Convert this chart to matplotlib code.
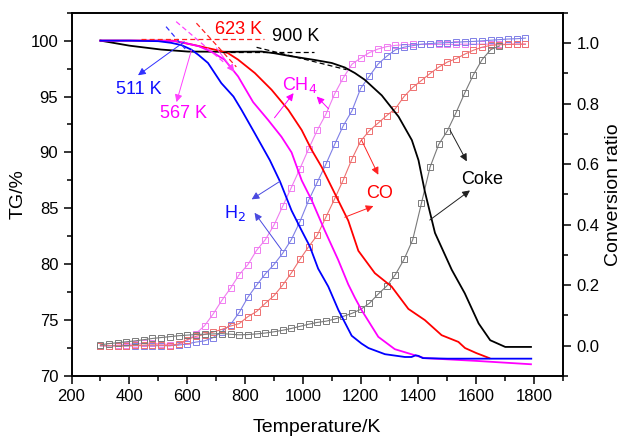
import matplotlib
matplotlib.use("Agg")
import matplotlib.pyplot as plt
from matplotlib.ticker import MultipleLocator

plt.rcParams["font.family"] = ["Liberation Sans", "DejaVu Sans"]

# ---- TG curves (left axis) ----
T_h2 = [300, 400, 500, 545, 580, 614, 640, 672, 718, 760, 788, 834, 886, 921, 961,
        996, 1024, 1053, 1088, 1123, 1169, 1203, 1227, 1284, 1353, 1376, 1390, 1400,
        1415, 1500, 1600, 1790]
tg_h2 = [100, 100, 99.95, 99.8, 99.6, 99.2, 98.7, 98.0, 96.2, 95.0, 93.8, 91.7, 89.3,
         87.4, 84.8, 83.0, 81.6, 79.6, 78.0, 75.9, 73.6, 72.9, 72.5, 71.95, 71.7, 71.7,
         71.85, 71.8, 71.6, 71.55, 71.55, 71.55]

T_ch4 = [300, 500, 560, 590, 640, 684, 729, 776, 828, 880, 926, 961, 996, 1031, 1076,
         1122, 1157, 1180, 1203, 1261, 1318, 1388, 1420, 1600, 1789]
tg_ch4 = [100, 100, 99.95, 99.8, 99.5, 99.0, 98.3, 96.8, 94.5, 92.9, 91.4, 90.0, 87.5,
          85.7, 83.0, 80.4, 78.2, 77.0, 75.9, 73.5, 72.4, 71.85, 71.6, 71.35, 71.05]

T_co = [300, 550, 625, 694, 740, 776, 834, 892, 950, 996, 1031, 1065, 1111, 1157, 1192,
        1249, 1307, 1365, 1422, 1480, 1538, 1561, 1600, 1645]
tg_co = [100, 100, 99.6, 99.2, 98.9, 98.3, 97.1, 95.6, 93.8, 92.0, 90.2, 88.7, 86.3,
         83.9, 81.2, 79.2, 78.0, 76.0, 75.0, 73.65, 73.05, 72.5, 72.05, 71.6]

T_coke = [300, 400, 510, 603, 750, 857, 902, 960, 1041, 1100, 1145, 1180, 1214, 1273,
          1331, 1377, 1400, 1422, 1457, 1515, 1560, 1608, 1648, 1700, 1789]
tg_coke = [100, 99.55, 99.2, 99.02, 99.0, 99.02, 98.87, 98.6, 98.27, 98.0, 97.6, 97.1,
           96.5, 95.1, 93.2, 91.1, 89.3, 86.5, 82.8, 79.5, 77.4, 74.7, 73.2, 72.6, 72.6]

# ---- conversion ratio (right axis) ----
T_conv = [300, 330, 360, 390, 420, 450, 480, 510, 540, 570, 600, 630, 660, 690, 720,
          750, 780, 810, 840, 870, 900, 930, 960, 990, 1020, 1050, 1080, 1110, 1140,
          1170, 1200, 1230, 1260, 1290, 1320, 1350, 1380, 1410, 1440, 1470, 1500, 1530,
          1560, 1590, 1620, 1650, 1680, 1710, 1740, 1770]
conv_ch4 = [0.000, 0.000, 0.002, 0.004, 0.006, 0.008, 0.008, 0.006, 0.004, 0.004,
            0.016, 0.040, 0.066, 0.105, 0.150, 0.190, 0.235, 0.268, 0.315, 0.350,
            0.398, 0.460, 0.522, 0.585, 0.650, 0.712, 0.765, 0.832, 0.885, 0.930,
            0.950, 0.968, 0.980, 0.988, 0.992, 0.994, 0.995, 0.995, 0.995, 0.995,
            0.995, 0.995, 0.996, 0.996, 0.996, 0.996, 0.996, 0.996, 0.996, 0.996]
conv_h2 = [0.000, 0.000, -0.001, -0.001, 0.000, 0.000, 0.000, 0.000, 0.000, 0.002,
           0.006, 0.012, 0.016, 0.027, 0.046, 0.070, 0.110, 0.160, 0.200, 0.237,
           0.268, 0.305, 0.350, 0.410, 0.480, 0.540, 0.600, 0.665, 0.727, 0.776,
           0.850, 0.890, 0.930, 0.956, 0.977, 0.986, 0.991, 0.996, 0.998, 1.000,
           1.001, 1.002, 1.004, 1.005, 1.007, 1.009, 1.011, 1.013, 1.014, 1.016]
conv_co = [0.000, 0.000, 0.000, 0.000, 0.001, 0.002, 0.003, 0.002, 0.000, 0.006,
           0.020, 0.031, 0.037, 0.045, 0.054, 0.065, 0.073, 0.096, 0.113, 0.140,
           0.165, 0.200, 0.240, 0.285, 0.327, 0.365, 0.425, 0.485, 0.548, 0.617,
           0.676, 0.710, 0.735, 0.760, 0.783, 0.823, 0.853, 0.876, 0.899, 0.920,
           0.937, 0.948, 0.963, 0.976, 0.986, 0.992, 0.994, 0.995, 0.996, 0.996]
T_conv_coke = T_conv[:47]
conv_coke = [0.003, 0.007, 0.010, 0.013, 0.016, 0.020, 0.024, 0.027, 0.030, 0.033,
             0.035, 0.037, 0.038, 0.039, 0.040, 0.038, 0.036, 0.037, 0.039, 0.042,
             0.046, 0.051, 0.057, 0.064, 0.071, 0.077, 0.081, 0.088, 0.097, 0.107,
             0.120, 0.140, 0.170, 0.197, 0.235, 0.285, 0.350, 0.470, 0.590, 0.665,
             0.710, 0.770, 0.835, 0.895, 0.945, 0.978, 0.990]

# onset tangent lines (T pairs, TG pairs)
onset_lines = [
    ("#3030ff", (527, 596), (101.25, 99.17)),
    ("#ff40ff", (562, 725), (101.7, 98.1)),
    ("#ff2020", (632, 770), (101.56, 97.65)),
    ("#ff2020", (441, 867), (100.12, 100.12)),
    ("black", (720, 1040), (99.02, 99.02)),
    ("black", (840, 1151), (99.4, 97.4)),
]

# labels: text, position, colour
labels = [
    ("511 K", (431, 95.6), "#1010ff"),
    ("567 K", (587, 93.5), "#ff00ff"),
    ("623 K", (777, 100.96), "#ff0000"),
    ("900 K", (974, 100.33), "black"),
    ("CH$_4$", (990, 96.0), "#ff00ff"),
    ("H$_2$", (765, 84.6), "#1010ff"),
    ("CO", (1266, 86.35), "#ff0000"),
    ("Coke", (1619, 87.6), "black"),
]

# arrows: tail -> head, colour
arrows = [
    ((590, 99.9), (430, 96.9), "#3030ff"),
    ((615, 99.17), (563, 94.5), "#ff40ff"),
    ((701, 99.35), (763, 97.2), "#ff40ff"),
    ((902, 93.1), (968, 95.3), "#ff00ff"),
    ((1089, 93.9), (1048, 95.0), "#ff00ff"),
    ((920, 87.4), (823, 85.8), "#4a4ae0"),
    ((926, 81.3), (833, 84.6), "#4a4ae0"),
    ((1203, 91.1), (1261, 88.0), "#ff2020"),
    ((1145, 84.2), (1244, 85.2), "#ff2020"),
    ((1509, 92.0), (1567, 89.2), "#202020"),
    ((1439, 83.95), (1578, 86.6), "#202020"),
]

fig = plt.figure(figsize=(6.23, 4.37), dpi=100)
ax = fig.add_axes([0.1148, 0.1396, 0.789, 0.8314])
ax2 = ax.twinx()
ax.set_zorder(ax2.get_zorder() + 1)
ax.patch.set_visible(False)

mk = dict(marker="s", fillstyle="none", markersize=3.8, markeredgewidth=0.7, lw=0.8)
ax2.plot(T_conv, conv_ch4, color="#f07cf0", **mk)
ax2.plot(T_conv, conv_h2, color="#7f7fe6", **mk)
ax2.plot(T_conv, conv_co, color="#ee7070", **mk)
ax2.plot(T_conv_coke, conv_coke, color="#7a7a7a", **mk)

ax.plot(T_coke, tg_coke, color="black", lw=1.3)
ax.plot(T_co, tg_co, color="#ff0000", lw=1.3)
ax.plot(T_ch4, tg_ch4, color="#ff00ff", lw=1.3)
ax.plot(T_h2, tg_h2, color="#0000ff", lw=1.3)

for col, xs, ys in onset_lines:
    ax.plot(xs, ys, color=col, lw=0.9, ls=(0, (4, 2.5)))

for txt, pos, col in labels:
    ax.text(pos[0], pos[1], txt, color=col, fontsize=13, ha="center", va="center")

for tail, head, col in arrows:
    ax.annotate("", xy=head, xytext=tail,
                arrowprops=dict(arrowstyle="-|>", color=col, lw=0.7,
                                mutation_scale=11, shrinkA=0, shrinkB=0))

ax.set_xlim(200, 1900)
ax.set_ylim(70, 102.5)
ax2.set_ylim(-0.1, 1.1)

ax.xaxis.set_major_locator(MultipleLocator(200))
ax.xaxis.set_minor_locator(MultipleLocator(100))
ax.yaxis.set_major_locator(MultipleLocator(5))
ax.yaxis.set_minor_locator(MultipleLocator(2.5))
ax2.yaxis.set_major_locator(MultipleLocator(0.2))
ax2.yaxis.set_minor_locator(MultipleLocator(0.1))
ax2.yaxis.set_major_formatter(plt.FormatStrFormatter("%.1f"))

for a in (ax, ax2):
    a.tick_params(which="major", direction="out", length=6, width=1.1, labelsize=12)
    a.tick_params(which="minor", direction="out", length=3.5, width=1.1)
    for s in a.spines.values():
        s.set_linewidth(1.2)
ax.tick_params(axis="x", top=False, which="both")

ax.set_xlabel("Temperature/K", fontsize=14, labelpad=11)
ax.set_ylabel("TG/%", fontsize=14, labelpad=3)
ax2.set_ylabel("Conversion ratio", fontsize=14, labelpad=4)

fig.savefig("out.png", dpi=100)
